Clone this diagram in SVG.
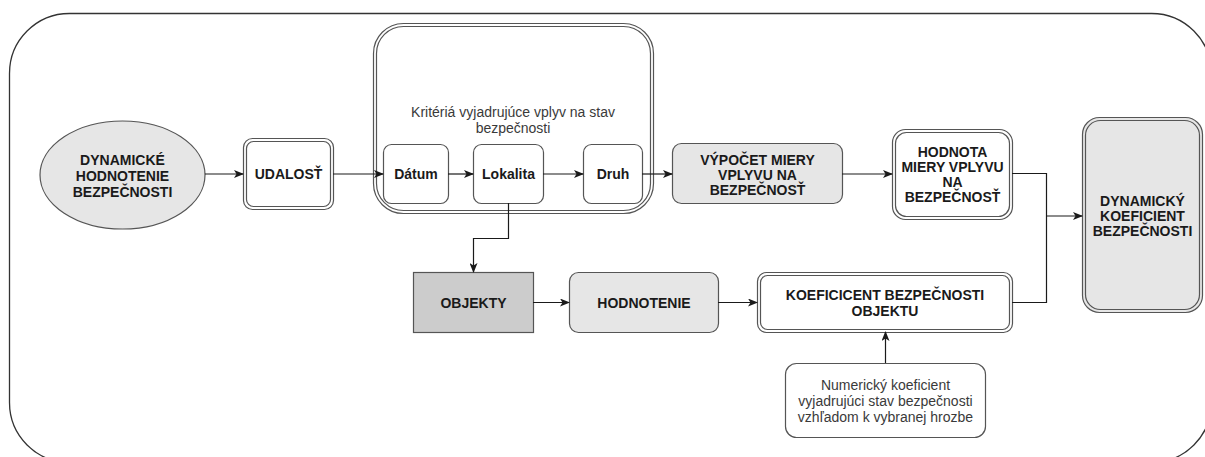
<svg xmlns="http://www.w3.org/2000/svg" width="1205" height="457" viewBox="0 0 1205 457">
  <defs>
    <marker id="arrow" viewBox="0 0 10 8" refX="9" refY="4" markerWidth="10" markerHeight="8" markerUnits="userSpaceOnUse" orient="auto">
      <path d="M0,0 L10,4 L0,8 L2.5,4 Z" fill="#1a1a1a"/>
    </marker>
    <style>
      .frame { fill: #ffffff; stroke: #333333; stroke-width: 1.3; }
      .box { fill: #ffffff; stroke: #555555; stroke-width: 1.2; }
      .inner { fill: none; stroke: #555555; stroke-width: 1.2; }
      .grey { fill: #e6e6e6; stroke: #555555; stroke-width: 1.2; }
      .dark { fill: #cccccc; stroke: #555555; stroke-width: 1.2; }
      .edge { fill: none; stroke: #1a1a1a; stroke-width: 1.2; marker-end: url(#arrow); }
      .line { fill: none; stroke: #1a1a1a; stroke-width: 1.2; }
      .bold { font-family: "Liberation Sans", Arial, sans-serif; font-size: 14px; font-weight: bold; fill: #1a1a1a; text-anchor: middle; }
      .plain { font-family: "Liberation Sans", Arial, sans-serif; font-size: 14px; fill: #3a3a3a; text-anchor: middle; }
    </style>
  </defs>

  <rect width="1205" height="457" fill="#ffffff"/>

  <!-- outer frame -->
  <rect class="frame" x="9.5" y="13.5" width="1202" height="449" rx="60" ry="60"/>

  <!-- start ellipse -->
  <g id="node-start">
    <ellipse class="grey" cx="122.5" cy="175" rx="82.5" ry="54"/>
    <text class="bold" x="122.5" y="165">DYNAMICKÉ</text>
    <text class="bold" x="122.5" y="181">HODNOTENIE</text>
    <text class="bold" x="122.5" y="197">BEZPEČNOSTI</text>
  </g>

  <g id="node-udalost">
    <rect class="box" x="243.5" y="138.5" width="90" height="71" rx="9"/>
    <rect class="inner" x="246.5" y="141.5" width="84" height="65" rx="7"/>
    <text class="bold" x="288.5" y="179">UDALOSŤ</text>
  </g>

  <!-- criteria container -->
  <g id="node-kriteria">
    <rect class="box" x="373.5" y="23.5" width="280" height="190" rx="30"/>
    <rect class="inner" x="376.5" y="26.5" width="274" height="184" rx="27"/>
    <text class="plain" x="513" y="117">Kritériá vyjadrujúce vplyv na stav</text>
    <text class="plain" x="513" y="133">bezpečnosti</text>
  </g>

  <g id="node-datum">
    <rect class="box" x="383.5" y="144.5" width="65" height="59" rx="8"/>
    <text class="bold" x="416" y="179">Dátum</text>
  </g>

  <g id="node-lokalita">
    <rect class="box" x="473.5" y="144.5" width="70" height="59" rx="8"/>
    <text class="bold" x="508.5" y="179">Lokalita</text>
  </g>

  <g id="node-druh">
    <rect class="box" x="583.5" y="144.5" width="59" height="59" rx="8"/>
    <text class="bold" x="613" y="179">Druh</text>
  </g>

  <g id="node-vypocet">
    <rect class="grey" x="672.5" y="143.5" width="170" height="60" rx="9"/>
    <text class="bold" x="757.5" y="165">VÝPOČET MIERY</text>
    <text class="bold" x="757.5" y="180">VPLYVU NA</text>
    <text class="bold" x="757.5" y="195">BEZPEČNOSŤ</text>
  </g>

  <g id="node-hodnota">
    <rect class="box" x="892.5" y="129.5" width="120" height="90" rx="13"/>
    <rect class="inner" x="895.5" y="132.5" width="114" height="84" rx="11"/>
    <text class="bold" x="952.5" y="157">HODNOTA</text>
    <text class="bold" x="952.5" y="172">MIERY VPLYVU</text>
    <text class="bold" x="952.5" y="187">NA</text>
    <text class="bold" x="952.5" y="202">BEZPEČNOSŤ</text>
  </g>

  <g id="node-dynamicky">
    <rect class="grey" x="1082.5" y="117.5" width="120" height="195" rx="17"/>
    <rect class="inner" x="1085.5" y="120.5" width="114" height="189" rx="15"/>
    <text class="bold" x="1142.5" y="206">DYNAMICKÝ</text>
    <text class="bold" x="1142.5" y="221">KOEFICIENT</text>
    <text class="bold" x="1142.5" y="236">BEZPEČNOSTI</text>
  </g>

  <g id="node-objekty">
    <rect class="dark" x="413.5" y="272.5" width="120" height="60"/>
    <text class="bold" x="473.5" y="308">OBJEKTY</text>
  </g>

  <g id="node-hodnotenie">
    <rect class="grey" x="569.5" y="272.5" width="149" height="60" rx="9"/>
    <text class="bold" x="644" y="308">HODNOTENIE</text>
  </g>

  <g id="node-koeficient">
    <rect class="box" x="757.5" y="272.5" width="255" height="60" rx="9"/>
    <rect class="inner" x="760.5" y="275.5" width="249" height="54" rx="7"/>
    <text class="bold" x="885" y="300">KOEFICICENT BEZPEČNOSTI</text>
    <text class="bold" x="885" y="316">OBJEKTU</text>
  </g>

  <g id="node-numericky">
    <rect class="box" x="785.5" y="363.5" width="200" height="74" rx="11"/>
    <text class="plain" x="885.5" y="390">Numerický koeficient</text>
    <text class="plain" x="885.5" y="406">vyjadrujúci stav bezpečnosti</text>
    <text class="plain" x="885.5" y="422">vzhľadom k vybranej hrozbe</text>
  </g>

  <!-- connectors, drawn over the container so the inner arrows stay visible -->
  <g id="connectors">
    <path class="edge" d="M205,174 L243,174"/>
    <path class="edge" d="M333,174 L383,174"/>
    <path class="edge" d="M448,174 L473,174"/>
    <path class="edge" d="M543,174 L583,174"/>
    <path class="edge" d="M642,174 L672,174"/>
    <path class="edge" d="M842,174 L892,174"/>
    <path class="line" d="M1012,173.5 L1046.5,173.5 L1046.5,302.5 L1012,302.5"/>
    <path class="edge" d="M1046.5,216 L1082,216"/>
    <path class="edge" d="M508.5,203 L508.5,238.5 L473.5,238.5 L473.5,272"/>
    <path class="edge" d="M533,302.5 L569,302.5"/>
    <path class="edge" d="M718,302.5 L757,302.5"/>
    <path class="edge" d="M885.5,363 L885.5,332"/>
  </g>
</svg>
